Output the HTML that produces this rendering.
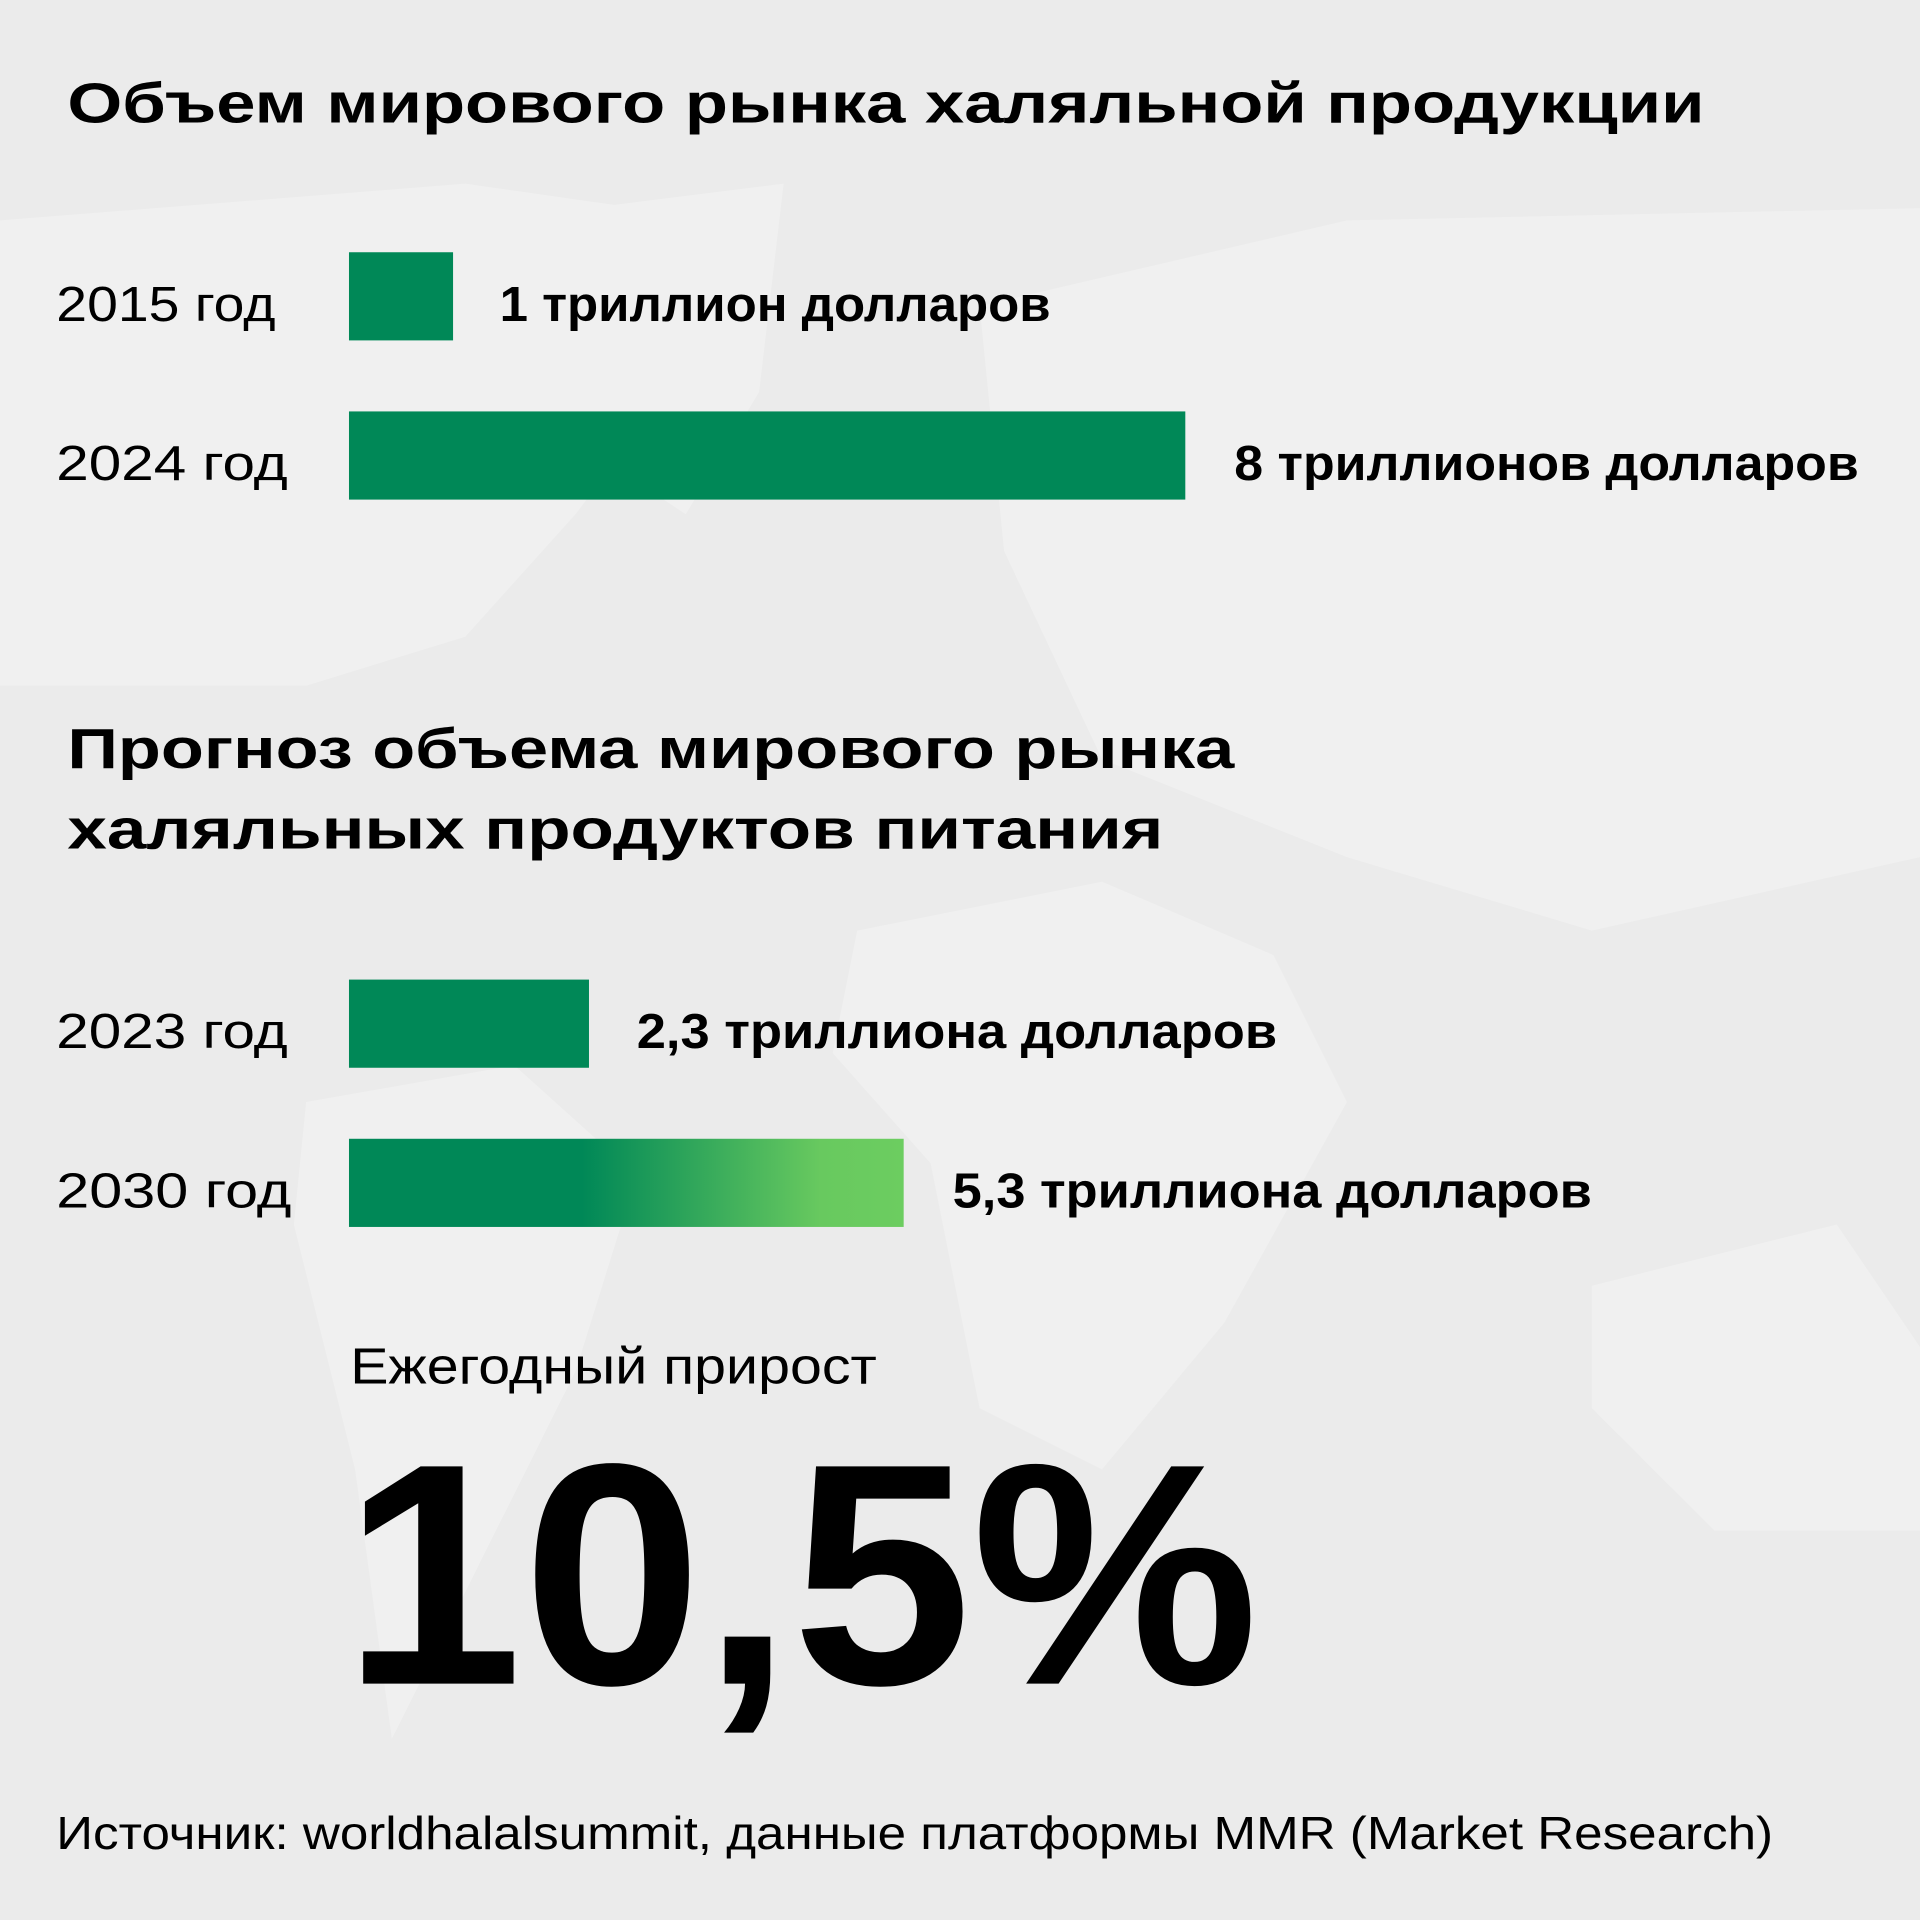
<!DOCTYPE html>
<html><head><meta charset="utf-8"><style>
html,body{margin:0;padding:0;background:#ebebeb;}
svg{display:block}
text{font-family:"Liberation Sans",sans-serif;fill:#000}
</style></head><body>
<svg width="1920" height="1920" viewBox="0 0 1568 1568" xmlns="http://www.w3.org/2000/svg">
<defs>
<linearGradient id="g" x1="285" x2="738" gradientUnits="userSpaceOnUse">
<stop offset="0" stop-color="#008857"/><stop offset="0.42" stop-color="#008857"/><stop offset="0.85" stop-color="#68c95f"/><stop offset="1" stop-color="#6ccd60"/>
</linearGradient>
</defs>
<rect width="1568" height="1568" fill="#ebebeb"/>
<g fill="#f0f0f0">
<path d="M0 180 L380 150 L520 170 L560 300 L470 420 L380 520 L250 560 L0 560 Z"/>
<path d="M480 170 L640 150 L620 320 L560 420 L500 380 Z"/>
<path d="M800 250 L1100 180 L1568 170 L1568 700 L1300 760 L1100 700 L900 620 L820 450 Z"/>
<path d="M700 760 L900 720 L1040 780 L1100 900 L1000 1080 L900 1200 L800 1150 L760 950 L680 860 Z"/>
<path d="M250 900 L420 870 L520 960 L470 1120 L380 1300 L320 1420 L290 1200 L240 1000 Z"/>
<path d="M1300 1050 L1500 1000 L1568 1100 L1568 1250 L1400 1250 L1300 1150 Z"/>
</g>
<text x="55" y="100" font-size="46" font-weight="bold" textLength="1337" lengthAdjust="spacingAndGlyphs">Объем мирового рынка халяльной продукции</text>
<text x="46" y="262" font-size="40" textLength="179" lengthAdjust="spacingAndGlyphs">2015 год</text>
<rect x="285" y="206" width="85" height="72" fill="#008857"/>
<text x="408" y="262" font-size="40" font-weight="bold" textLength="450" lengthAdjust="spacingAndGlyphs">1 триллион долларов</text>
<text x="46" y="392" font-size="40" textLength="189" lengthAdjust="spacingAndGlyphs">2024 год</text>
<rect x="285" y="336" width="683" height="72" fill="#008857"/>
<text x="1008" y="392" font-size="40" font-weight="bold" textLength="510" lengthAdjust="spacingAndGlyphs">8 триллионов долларов</text>
<text x="55" y="627" font-size="46" font-weight="bold" textLength="953" lengthAdjust="spacingAndGlyphs">Прогноз объема мирового рынка</text>
<text x="55" y="693" font-size="46" font-weight="bold" textLength="895" lengthAdjust="spacingAndGlyphs">халяльных продуктов питания</text>
<text x="46" y="856" font-size="40" textLength="189" lengthAdjust="spacingAndGlyphs">2023 год</text>
<rect x="285" y="800" width="196" height="72" fill="#008857"/>
<text x="520" y="856" font-size="40" font-weight="bold" textLength="523" lengthAdjust="spacingAndGlyphs">2,3 триллиона долларов</text>
<text x="46" y="986" font-size="40" textLength="192" lengthAdjust="spacingAndGlyphs">2030 год</text>
<rect x="285" y="930" width="453" height="72" fill="url(#g)"/>
<text x="778" y="986" font-size="40" font-weight="bold" textLength="522" lengthAdjust="spacingAndGlyphs">5,3 триллиона долларов</text>
<text x="286" y="1130" font-size="42" fill="#222" textLength="430" lengthAdjust="spacingAndGlyphs">Ежегодный прирост</text>
<text x="280" y="1375" font-size="258" font-weight="bold" textLength="748" lengthAdjust="spacingAndGlyphs">10,5%</text>
<text x="46" y="1510" font-size="38" fill="#333" textLength="1402" lengthAdjust="spacingAndGlyphs">Источник: worldhalalsummit, данные платформы MMR (Market Research)</text>
</svg>
</body></html>
